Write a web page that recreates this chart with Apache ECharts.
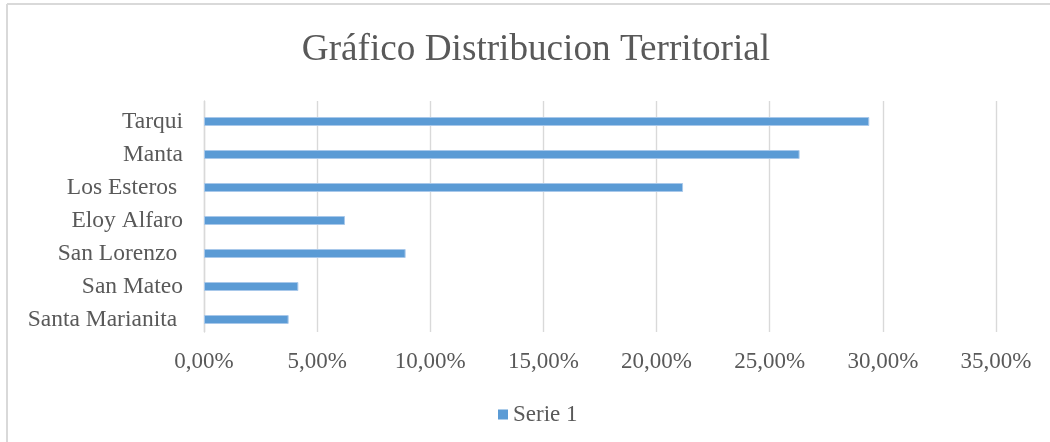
<!DOCTYPE html>
<html>
<head>
<meta charset="utf-8">
<script src="https://cdn.jsdelivr.net/npm/echarts@6/dist/echarts.min.js"></script>
<style>
html,body{margin:0;padding:0;background:#fff;}
#c{width:1050px;height:442px;}
</style>
</head>
<body>
<div id="c"></div>
<script>
const categories = ['Tarqui', 'Manta', 'Los Esteros ', 'Eloy Alfaro', 'San Lorenzo ', 'San Mateo', 'Santa Marianita '];
const serie1 = [0.2940, 0.2632, 0.2117, 0.0623, 0.0891, 0.0417, 0.0374];
const seriesName = 'Serie 1';
const titleText = 'Gráfico Distribucion Territorial';
const xMin = 0, xMax = 0.35, xStep = 0.05;

const chart = echarts.init(document.getElementById('c'), null, {renderer: 'canvas'});
const font = '"Liberation Serif", "Times New Roman", serif';
const txt = '#595959';
const grid0 = {left: 204, right: 54, top: 101, bottom: 110};
const grid1 = {left: 204, right: 54, top: 105, bottom: 106};
chart.setOption({
  animation: false,
  backgroundColor: '#fff',
  textStyle: {fontFamily: font},
  title: {
    text: titleText,
    left: 531, top: 27, textAlign: 'center',
    textStyle: {fontFamily: font, fontSize: 37.2, fontWeight: 'normal', color: txt}
  },
  legend: {
    data: [seriesName],
    left: 493, top: 398,
    icon: 'rect', itemWidth: 10, itemHeight: 10, itemGap: 5,
    itemStyle: {borderWidth: 0},
    textStyle: {fontFamily: font, fontSize: 23, color: txt}
  },
  grid: [grid0, grid1],
  xAxis: [{
    gridIndex: 0, type: 'value', min: xMin, max: xMax, interval: xStep,
    axisLine: {show: false}, axisTick: {show: false},
    splitLine: {show: true, lineStyle: {color: '#d9d9d9', width: 1.4}},
    axisLabel: {
      fontFamily: font, fontSize: 23, color: txt, margin: 18,
      formatter: v => (v * 100).toFixed(2).replace('.', ',') + '%'
    }
  }, {
    gridIndex: 1, type: 'value', min: xMin, max: xMax, interval: xStep,
    show: false
  }],
  yAxis: [{
    gridIndex: 0, type: 'category', data: categories, inverse: true,
    axisLine: {show: true, lineStyle: {color: '#d9d9d9', width: 1.4}},
    axisTick: {show: false}, axisLabel: {show: false}
  }, {
    gridIndex: 1, type: 'category', data: categories, inverse: true,
    axisLine: {show: false}, axisTick: {show: false}, splitLine: {show: false},
    axisLabel: {fontFamily: font, fontSize: 23.5, color: txt, margin: 21}
  }],
  series: [{
    name: seriesName, type: 'bar', data: serie1,
    xAxisIndex: 1, yAxisIndex: 1,
    barWidth: 9,
    itemStyle: {color: '#5b9bd5', borderColor: '#a8c8ea', borderWidth: 1}
  }],
  graphic: [
    {type: 'line', shape: {x1: 7, y1: 4, x2: 1050, y2: 4}, style: {stroke: '#d9d9d9', lineWidth: 2}},
    {type: 'line', shape: {x1: 7, y1: 4, x2: 7, y2: 442}, style: {stroke: '#d9d9d9', lineWidth: 2}}
  ]
});
</script>
</body>
</html>
